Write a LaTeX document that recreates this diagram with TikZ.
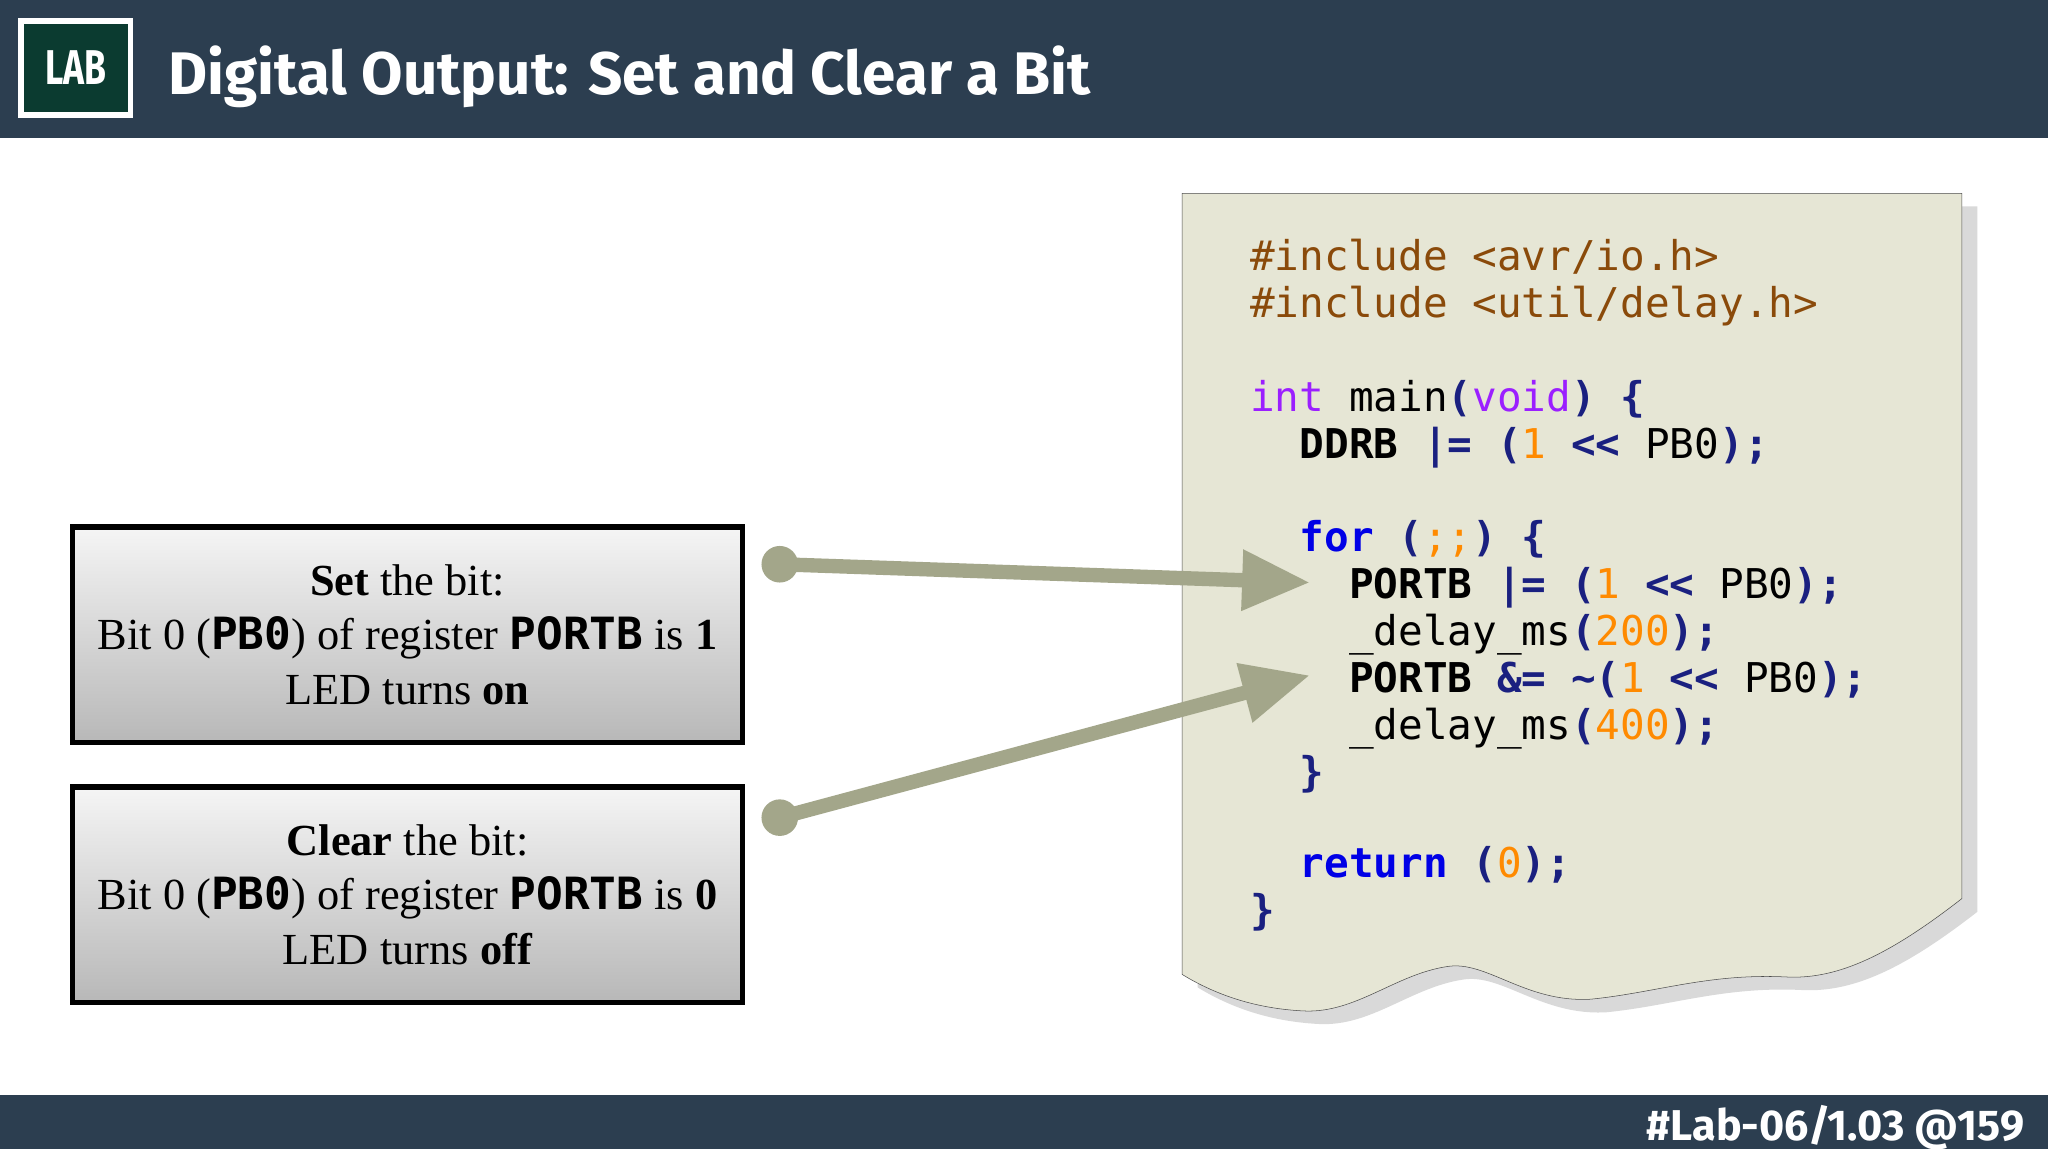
\documentclass[tikz,border=0pt]{standalone}
\usepackage{fontspec}
\setmainfont{Liberation Serif}
\setmonofont{DejaVu Sans Mono}
\newfontfamily\titlefont{Fira Sans}
\usetikzlibrary{arrows.meta}
\definecolor{bar}{HTML}{2C3E50}
\definecolor{labg}{HTML}{0B3B30}
\definecolor{paper}{HTML}{E6E6D5}
\definecolor{arr}{HTML}{A3A68A}
\definecolor{cbrown}{HTML}{8A4A0A}
\definecolor{cpurp}{HTML}{9B1FFF}
\definecolor{cblue}{HTML}{0000E6}
\definecolor{cnavy}{HTML}{1A2080}
\definecolor{corng}{HTML}{FF8A00}
\newcommand{\Br}[1]{\textcolor{cbrown}{#1}}
\newcommand{\Pu}[1]{\textcolor{cpurp}{#1}}
\newcommand{\Bl}[1]{\textcolor{cblue}{\bfseries #1}}
\newcommand{\Nv}[1]{\textcolor{cnavy}{\bfseries #1}}
\newcommand{\Or}[1]{\textcolor{corng}{#1}}
\begin{document}
\begin{tikzpicture}[x=1pt,y=-1pt,
  infobox/.style={draw=black,line width=4pt,top color=white!92!gray,bottom color=black!28,minimum width=513pt,minimum height=165pt,align=center,font=\fontsize{34}{42}\selectfont,inner sep=0pt},
  dot/.style={circle,fill=arr,minimum size=28pt,inner sep=0pt},
  link/.style={draw=arr,line width=11pt,-{Triangle[length=52pt,width=44pt]}},
  code/.style={anchor=base west,inner sep=0pt,font=\fontsize{31.4}{36}\ttfamily}]
\useasboundingbox (0,0) rectangle (1568,880);
\fill[white] (0,0) rectangle (1568,880);
\fill[bar] (0,0) rectangle (1568,106);
\fill[bar] (0,838) rectangle (1568,880);
\node[draw=white,line width=4pt,fill=labg,minimum width=84pt,minimum height=72pt,text=white,font=\titlefont\bfseries\fontsize{34}{34}\selectfont] (lab) at (58,52) {\scalebox{0.8}[1.1]{LAB}};
\node[anchor=base west,text=white,font=\titlefont\bfseries\fontsize{46}{46}\selectfont,inner sep=0pt] (title) at (129,72) {Digital Output: Set and Clear a Bit};
\node[anchor=base east,text=white,font=\titlefont\bfseries\fontsize{33}{33}\selectfont,inner sep=0pt] (foot) at (1550,873) {\#Lab-06/1.03 @159};
% paper
\fill[black!15] (917,158) -- (1514,158) -- (1514,698)
  .. controls (1460,740) and (1420,760) .. (1380,758)
  .. controls (1320,755) and (1280,770) .. (1230,775)
  .. controls (1180,778) and (1150,745) .. (1120,750)
  .. controls (1080,756) and (1050,786) .. (1010,784)
  .. controls (970,782) and (940,770) .. (917,756) -- cycle;
\draw[black!70,fill=paper] (905,148) -- (1502,148) -- (1502,688)
  .. controls (1448,730) and (1408,750) .. (1368,748)
  .. controls (1308,745) and (1268,760) .. (1218,765)
  .. controls (1168,768) and (1138,735) .. (1108,740)
  .. controls (1068,746) and (1038,776) .. (998,774)
  .. controls (958,772) and (928,760) .. (905,746) -- cycle;
\node[code] (l1) at (957,207) {\Br{\#include <avr/io.h>}};
\node[code] (l2) at (957,243) {\Br{\#include <util/delay.h>}};
\node[code] (l3) at (957,315) {\Pu{int} main\Nv{(}\Pu{void}\Nv{) \{}};
\node[code] (l4) at (957,351) {\ \ \textbf{DDRB} \Nv{|=} \Nv{(}\Or{1} \Nv{<<} PB0\Nv{);}};
\node[code] (l5) at (957,422) {\ \ \Bl{for} \Nv{(}\Or{;;}\Nv{) \{}};
\node[code] (l6) at (957,458) {\ \ \ \ \textbf{PORTB} \Nv{|=} \Nv{(}\Or{1} \Nv{<<} PB0\Nv{);}};
\node[code] (l7) at (957,494) {\ \ \ \ \_delay\_ms\Nv{(}\Or{200}\Nv{);}};
\node[code] (l8) at (957,530) {\ \ \ \ \textbf{PORTB} \Nv{\&=} \Nv{\textasciitilde(}\Or{1} \Nv{<<} PB0\Nv{);}};
\node[code] (l9) at (957,566) {\ \ \ \ \_delay\_ms\Nv{(}\Or{400}\Nv{);}};
\node[code] (l10) at (957,602) {\ \ \Nv{\}}};
\node[code] (l11) at (957,672) {\ \ \Bl{return} \Nv{(}\Or{0}\Nv{);}};
\node[code] (l12) at (957,708) {\Nv{\}}};
% boxes
\node[infobox] (set) at (312,486) {\textbf{Set} the bit:\\Bit 0 (\texttt{\bfseries PB0}) of register \texttt{\bfseries PORTB} is \textbf{1}\\LED turns \textbf{on}};
\node[infobox] (clr) at (312,685) {\textbf{Clear} the bit:\\Bit 0 (\texttt{\bfseries PB0}) of register \texttt{\bfseries PORTB} is \textbf{0}\\LED turns \textbf{off}};
\node[dot] (d1) at (597,432) {};
\node[dot] (d2) at (597,626) {};
\coordinate (t1) at (1003,446);
\coordinate (t2) at (1003,517);
\draw[link] (d1.center) -- (t1);
\draw[link] (d2.center) -- (t2);
\end{tikzpicture}
\end{document}
